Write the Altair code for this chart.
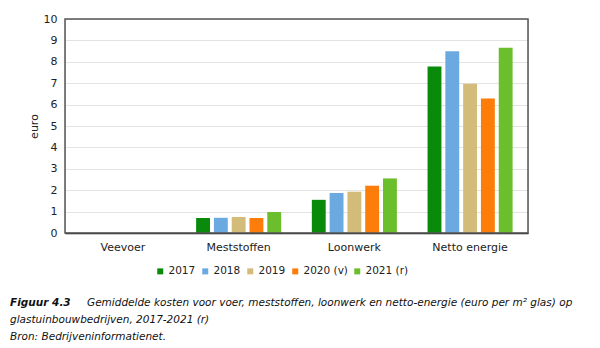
import altair as alt
import pandas as pd

categories = ["Veevoer", "Meststoffen", "Loonwerk", "Netto energie"]
years = ["2017", "2018", "2019", "2020 (v)", "2021 (r)"]
colors = ["#0a8a0a", "#6aaae0", "#d3bb7a", "#fd7d0a", "#6cbf2c"]
values = {
    "2017":     [0, 0.70, 1.55, 7.78],
    "2018":     [0, 0.71, 1.87, 8.49],
    "2019":     [0, 0.75, 1.93, 6.98],
    "2020 (v)": [0, 0.70, 2.21, 6.28],
    "2021 (r)": [0, 0.98, 2.55, 8.66],
}
caption_bold = "Figuur 4.3"
caption_line1 = "Gemiddelde kosten voor voer, meststoffen, loonwerk en netto-energie (euro per m² glas) op"
caption_line2 = "glastuinbouwbedrijven, 2017-2021 (r)"
caption_line3 = "Bron: Bedrijveninformatienet."

rows = []
for y in years:
    for c, v in zip(categories, values[y]):
        rows.append({"cat": c, "year": y, "value": v})
df = pd.DataFrame(rows)

FONT = "DejaVu Sans"

bars = alt.Chart(df).mark_bar().encode(
    x=alt.X("cat:N", sort=categories, title=None,
            scale=alt.Scale(paddingInner=0.265, paddingOuter=0.133),
            axis=alt.Axis(labelAngle=0, ticks=False, domain=True, domainColor="#222",
                          domainWidth=1.5, labelFont=FONT, labelFontSize=11,
                          labelColor="#222", labelPadding=8)),
    xOffset=alt.XOffset("year:N", sort=years,
                        scale=alt.Scale(paddingInner=0.22, paddingOuter=0)),
    y=alt.Y("value:Q", title="euro",
            scale=alt.Scale(domain=[0, 10], nice=False),
            axis=alt.Axis(values=list(range(0, 11)), ticks=False, domain=False,
                          gridColor="#e3e3e3", gridWidth=1.2,
                          labelFont=FONT, labelFontSize=11, labelColor="#222",
                          labelPadding=8, titleFont=FONT, titleFontSize=11,
                          titleFontWeight="normal", titleColor="#222",
                          titlePadding=4)),
    color=alt.Color("year:N", sort=years, title=None,
                    scale=alt.Scale(domain=years, range=colors),
                    legend=alt.Legend(orient="none", direction="horizontal",
                                      legendX=90, legendY=247,
                                      symbolType="square", symbolSize=36,
                                      symbolStrokeWidth=0, labelFont=FONT,
                                      labelFontSize=10.5, labelColor="#222",
                                      labelOffset=3, columnPadding=4)),
)

one = alt.Data(values=[{"a": 1}])

frame = alt.Chart(one).mark_rect(fill=None, stroke="#555", strokeWidth=1.5).encode(
    x=alt.value(0), x2=alt.value(463), y=alt.value(0), y2=alt.value(214)
)

def txt(text, x, y, weight="normal", style="italic"):
    return alt.Chart(one).mark_text(
        text=text, align="left", baseline="alphabetic", font=FONT,
        fontSize=10.5, fontStyle=style, fontWeight=weight, color="#111"
    ).encode(x=alt.value(x), y=alt.value(y))

captions = (
    txt(caption_bold, -55, 287, weight="bold")
    + txt(caption_line1, 22, 287)
    + txt(caption_line2, -55, 304)
    + txt(caption_line3, -55, 321)
)

chart = alt.layer(bars, frame, captions).properties(
    width=463, height=214,
    autosize=alt.AutoSizeParams(type="none"),
    padding={"left": 65, "top": 19, "right": 72, "bottom": 115},
).configure_view(
    stroke=None
).configure(background="white")

chart.save("out.html", embed_options={"renderer": "svg", "actions": False})
